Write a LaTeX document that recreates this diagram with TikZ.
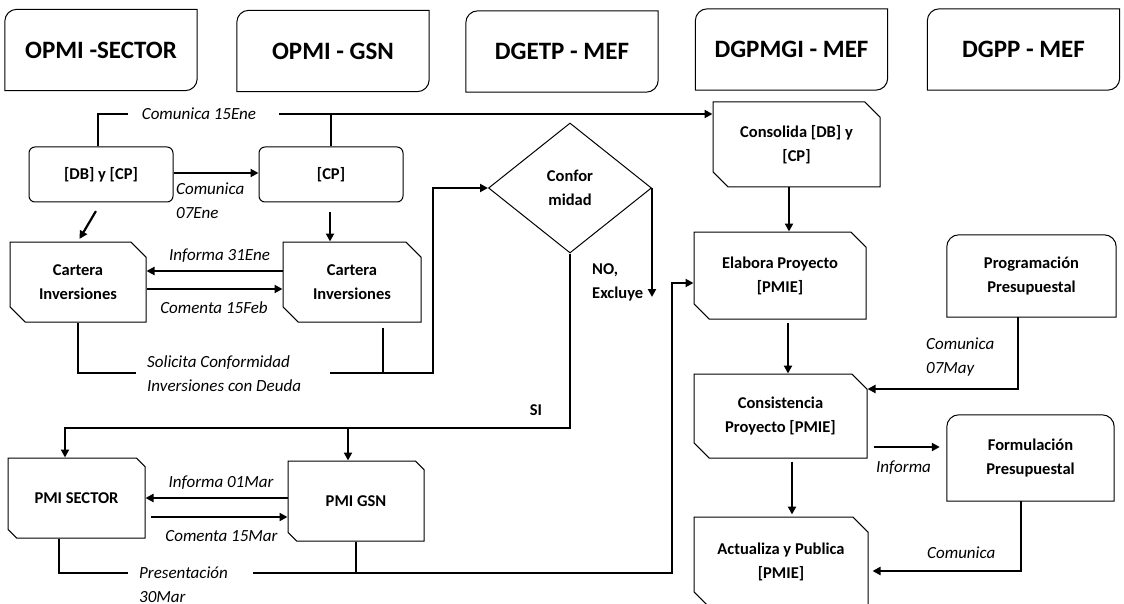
\documentclass[tikz,border=0pt]{standalone}
\usepackage{fontspec}
\setmainfont{Carlito}
\usetikzlibrary{shapes.geometric,shapes.misc,arrows.meta}

\begin{document}
\begin{tikzpicture}[x=1pt,y=-1pt]
	% Estilos para los nodos
	\tikzstyle{cabecera} = [minimum width=192pt, minimum height=81pt, inner sep=0pt, font=\fontsize{25}{28}\selectfont\bfseries]
	\tikzstyle{proceso} = [rectangle, rounded corners=6pt, draw=black, line width=1pt, minimum width=144pt, minimum height=55pt, text centered, font=\fontsize{16.5}{24}\selectfont\bfseries]
	\tikzstyle{documento} = [chamfered rectangle, chamfered rectangle corners={north east, south west}, chamfered rectangle xsep=12pt, draw=black, line width=1pt, inner sep=0pt, align=center, font=\fontsize{16.5}{24}\selectfont\bfseries]
	\tikzstyle{decision} = [diamond, draw=black, line width=1pt, aspect=1.25, minimum width=163pt, minimum height=130pt, inner sep=0pt, align=center, font=\fontsize{16.5}{24}\selectfont\bfseries]
	\tikzstyle{bloque} = [inner sep=0pt, align=center, font=\fontsize{16.5}{24}\selectfont\bfseries]
	\tikzstyle{etiqueta} = [inner sep=0pt, align=left, font=\fontsize{17}{24}\selectfont\itshape]
	\tikzstyle{decide} = [inner sep=0pt, align=left, font=\fontsize{16.5}{24}\selectfont\bfseries]
	\tikzstyle{borde} = [line width=1pt]
	\tikzstyle{linea} = [line width=2.2pt]
	\tikzstyle{flecha} = [line width=2.2pt, -{Triangle[length=8pt,width=8pt]}]
	\useasboundingbox (0,0) rectangle (1124,604);
	% Encabezados
	\node (hSector) [cabecera] at (101,50) {OPMI -SECTOR};
	\node (hGsn) [cabecera] at (333,51) {OPMI - GSN};
	\node (hDgetp) [cabecera] at (562,51.5) {DGETP - MEF};
	\node (hDgpmgi) [cabecera] at (791.5,49.5) {DGPMGI - MEF};
	\node (hDgpp) [cabecera] at (1023.5,49.5) {DGPP - MEF};
	\foreach \n in {hSector,hGsn,hDgetp,hDgpmgi,hDgpp}
		\draw[borde] (\n.south west) -- ([yshift=-12pt]\n.north west) arc[start angle=180, end angle=90, radius=12pt] -- (\n.north east) -- ([yshift=12pt]\n.south east) arc[start angle=0, end angle=-90, radius=12pt] -- cycle;
	% Nodos
	\node (dbcp) [proceso] at (101,174.5) {[DB] y [CP]};
	\node (cp) [proceso] at (331,174.5) {[CP]};
	\node (cartS) [documento, minimum width=136pt, minimum height=80pt] at (78,282) {Cartera\\Inversiones};
	\node (cartG) [documento, minimum width=138pt, minimum height=80pt] at (352,282) {Cartera\\Inversiones};
	\node (conf) [decision] at (570,188) {Confor\\midad};
	\node (pmiS) [documento, minimum width=137pt, minimum height=80pt] at (76.5,498) {PMI SECTOR};
	\node (pmiG) [documento, minimum width=136pt, minimum height=80pt] at (356,501) {PMI GSN};
	\node (consol) [documento, minimum width=167pt, minimum height=85pt] at (796.5,144.5) {Consolida [DB] y\\{}[CP]};
	\node (elab) [documento, minimum width=172pt, minimum height=87pt] at (780,275.5) {Elabora Proyecto\\{}[PMIE]};
	\node (consis) [documento, minimum width=173pt, minimum height=84pt] at (780.5,416) {Consistencia\\Proyecto [PMIE]};
	\node (actu) [documento, minimum width=174pt, minimum height=90pt] at (781,562) {Actualiza y Publica\\{}[PMIE]};
	\node (prog) [bloque, minimum width=169pt, minimum height=82pt] at (1031.5,276) {Programación\\Presupuestal};
	\node (form) [bloque, minimum width=167pt, minimum height=86pt] at (1030.5,458) {Formulación\\Presupuestal};
	\foreach \n in {prog,form}
		\draw[borde] (\n.south west) -- ([yshift=-12pt]\n.north west) arc[start angle=180, end angle=90, radius=12pt] -- ([xshift=-12pt]\n.north east) arc[start angle=90, end angle=0, radius=12pt] -- (\n.south east) -- cycle;
	% Puntos de paso
	\coordinate (c15a) at (128,114);
	\coordinate (c15b) at (279,114);
	\coordinate (solA) at (136,373);
	\coordinate (solB) at (330,373);
	\coordinate (solC) at (433,373);
	\coordinate (noFin) at (651,297);
	\coordinate (siL) at (65,428);
	\coordinate (siM) at (348,428);
	\coordinate (preA) at (128,573);
	\coordinate (preB) at (253,573);
	\coordinate (preC) at (672,573);
	% Flechas
	\draw [linea] (dbcp.north -| 98,0) |- (c15a);
	\draw [flecha] (c15b) -- (consol.west |- c15b);
	\draw [linea] (cp.north) -- (cp.north |- c15b);
	\draw [flecha] (dbcp.east |- 0,173) -- (cp.west |- 0,173);
	\draw [flecha, shorten <=10pt, shorten >=3pt] (dbcp.south) -- (cartS.north);
	\draw [flecha, shorten <=10pt] (cp.south -| 330,0) -- (cartG.north -| 330,0);
	\draw [flecha] (cartG.west |- 0,271) -- (cartS.east |- 0,271);
	\draw [flecha] (cartS.east |- 0,289) -- (cartG.west |- 0,289);
	\draw [linea] (cartS.south) |- (solA);
	\draw [flecha] (solB) -- (solC) |- (conf.west);
	\draw [linea, shorten <=5pt] (cartG.south -| 383,0) -- (solB -| 383,0);
	\draw [flecha] (conf.east) -- (conf.east |- noFin);
	\draw [flecha] (conf.south) |- (siL) -- (siL |- pmiS.north);
	\draw [flecha] (siM) -- (siM |- pmiG.north);
	\draw [flecha] (pmiG.west |- 0,498) -- (pmiS.east |- 0,498);
	\draw [flecha, shorten <=5pt] (pmiS.east |- 0,517) -- (pmiG.west |- 0,517);
	\draw [linea] (pmiS.south -| 59,0) |- (preA);
	\draw [flecha] (preB) -- (preC) |- (elab.west |- 0,283);
	\draw [linea] (pmiG.south) -- (pmiG.south |- preB);
	\draw [flecha] (consol.south -| 789,0) -- (elab.north -| 789,0);
	\draw [flecha, shorten <=3pt] (elab.south -| 788,0) -- (consis.north -| 788,0);
	\draw [flecha, shorten <=3pt, shorten >=2pt] (consis.south -| 792,0) -- (actu.north -| 792,0);
	\draw [flecha] (prog.south -| 1018,0) |- (consis.east |- 0,389);
	\draw [flecha, shorten <=6pt, shorten >=7pt] (consis.east |- 0,447) -- (form.west |- 0,447);
	\draw [flecha, shorten >=4pt] (form.south -| 1021,0) |- (actu.east |- 0,571);
	% Etiquetas
	\node (l15e) [etiqueta] at (199,114) {Comunica 15Ene};
	\node (l07e) [etiqueta, anchor=west] at (176,201) {Comunica\\07Ene};
	\node (l31e) [etiqueta] at (219.5,256) {Informa 31Ene};
	\node (l15f) [etiqueta] at (214,308) {Comenta 15Feb};
	\node (lsol) [etiqueta, anchor=west] at (147,374) {Solicita Conformidad\\Inversiones con Deuda};
	\node (lno) [decide, anchor=west] at (592,282.5) {NO,\\Excluye};
	\node (lsi) [decide] at (536,410) {SI};
	\node (l01m) [etiqueta] at (221,483) {Informa 01Mar};
	\node (l15m) [etiqueta] at (221.5,536) {Comenta 15Mar};
	\node (lpre) [etiqueta, anchor=west] at (139,585) {Presentación\\30Mar};
	\node (l07m) [etiqueta, anchor=west] at (926,357) {Comunica\\07May};
	\node (linf) [etiqueta, anchor=west] at (876,468) {Informa};
	\node (lcom) [etiqueta, anchor=west] at (927,553) {Comunica};
\end{tikzpicture}
\end{document}
